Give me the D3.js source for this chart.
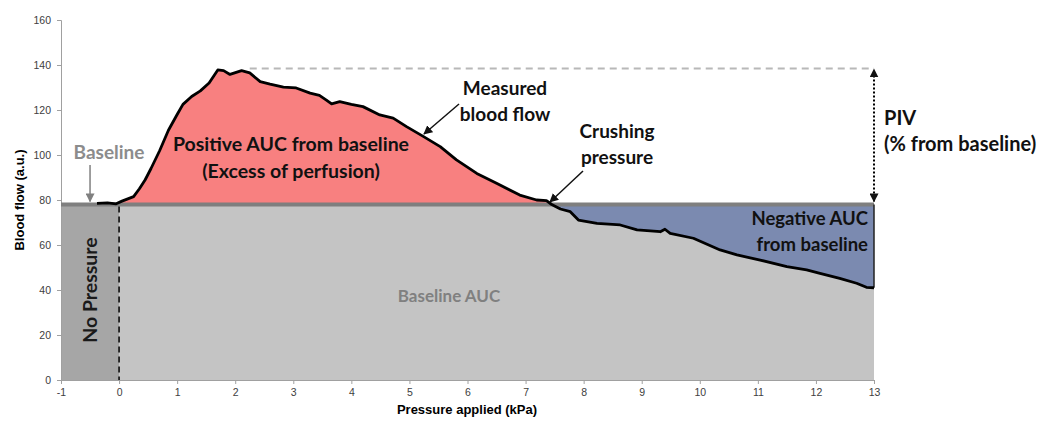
<!DOCTYPE html>
<html><head><meta charset="utf-8">
<script src="https://cdn.jsdelivr.net/npm/d3@7"></script>
<style>
body{margin:0;background:#fff;}
svg{display:block;}
.lbl{font-family:Lato,"Open Sans",sans-serif;font-weight:700;}
</style></head>
<body><svg id="c" width="1040" height="421"></svg>
<script>
const pressure = [-0.38,-0.2,-0.05,0.05,0.15,0.25,0.35,0.45,0.55,0.7,0.85,1.0,1.1,1.25,1.4,1.55,1.7,1.8,1.91,2.11,2.25,2.43,2.6,2.83,3.05,3.29,3.45,3.57,3.66,3.8,4.0,4.2,4.49,4.72,4.95,5.23,5.53,5.81,6.16,6.5,6.9,7.19,7.36,7.45,7.6,7.77,7.91,8.23,8.63,8.92,9.32,9.4,9.49,9.89,10.35,10.64,11.04,11.5,11.84,12.07,12.41,12.7,12.87,13.0];
const flow = [78.5,78.7,78.3,79.5,80.5,81.5,85,89,94,102,111,118,122.5,126,128.5,132,137.8,137.5,135.8,137.5,136.5,132.6,131.5,130.2,129.8,127.5,126.5,124.4,122.7,123.7,122.5,121.5,117.8,116.4,112.6,108.4,103.7,97.8,91.8,87.4,82.2,80,79.7,78,76,74.8,71.1,69.6,68.9,66.7,65.9,67,65.2,63,57.8,55.6,53.3,50.4,48.9,47.4,45.2,43,41.2,41];
const baseline = 78;
const peak = 138.5;
const xTicks = [-1,0,1,2,3,4,5,6,7,8,9,10,11,12,13];
const yTicks = [0,20,40,60,80,100,120,140,160];

const data = pressure.map((p,i)=>({x:p,y:flow[i]}));
const svg = d3.select("#c");
const x = d3.scaleLinear().domain([-1,13]).range([61,874]);
const y = d3.scaleLinear().domain([0,160]).range([380,20]);

const defs = svg.append("defs");
function marker(id,color,size){
  defs.append("marker").attr("id",id).attr("viewBox","0 0 10 10").attr("refX",9).attr("refY",5)
    .attr("markerWidth",size).attr("markerHeight",size).attr("orient","auto-start-reverse")
    .attr("markerUnits","userSpaceOnUse")
    .append("path").attr("d","M0,0 L10,5 L0,10 z").attr("fill",color);
}
marker("ag","#808080",9);
marker("ab","#111",9);

// No-pressure region
svg.append("path").datum([{x:-1},{x:0}])
  .attr("d",d3.area().x(d=>x(d.x)).y0(y(0)).y1(y(baseline))).attr("fill","#a6a6a6");
// baseline AUC (light gray)
const pos = data.filter(d=>d.x>=0);
svg.append("path").datum([{x:0,y:baseline}].concat(pos))
  .attr("d",d3.area().x(d=>x(d.x)).y0(y(0)).y1(d=>y(Math.min(d.y,baseline)))).attr("fill","#c4c4c4");
// positive AUC
svg.append("path").datum(data.filter(d=>d.x<=7.45))
  .attr("d",d3.area().x(d=>x(d.x)).y0(y(baseline)).y1(d=>y(Math.max(d.y,baseline)))).attr("fill","#f88080");
// negative AUC
svg.append("path").datum(data.filter(d=>d.x>=7.45))
  .attr("d",d3.area().x(d=>x(d.x)).y0(y(baseline)).y1(d=>y(Math.min(d.y,baseline)))).attr("fill","#7b8ab0");

// axes
const fmt = v => String(v);
const yAxis = svg.append("g").attr("transform",`translate(${x(-1)},0)`)
  .call(d3.axisLeft(y).tickValues(yTicks).tickFormat(fmt).tickSize(4).tickPadding(6));
const xAxis = svg.append("g").attr("transform",`translate(0,${y(0)})`)
  .call(d3.axisBottom(x).tickValues(xTicks).tickFormat(fmt).tickSize(4).tickPadding(5));
[yAxis,xAxis].forEach(a=>{
  a.selectAll("path,line").attr("stroke","#a0a0a0");
  a.selectAll("text").attr("fill","#404040").style("font-family","'Liberation Sans',Arial,sans-serif").style("font-size","10.5px");
});

// baseline line
svg.append("line").attr("x1",x(-1)).attr("x2",x(13)).attr("y1",y(baseline)).attr("y2",y(baseline))
  .attr("stroke","#7f7f7f").attr("stroke-width",4);
// dashed zero line
svg.append("line").attr("x1",x(0)).attr("x2",x(0)).attr("y1",y(baseline)+2).attr("y2",y(0))
  .attr("stroke","#000").attr("stroke-width",1.5).attr("stroke-dasharray","6,4");
// right edge of negative area
svg.append("line").attr("x1",x(13)).attr("x2",x(13)).attr("y1",y(baseline)).attr("y2",y(flow[flow.length-1]))
  .attr("stroke","#222").attr("stroke-width",1.5);
// curve
svg.append("path").datum(data)
  .attr("d",d3.line().x(d=>x(d.x)).y(d=>y(d.y)).curve(d3.curveLinear))
  .attr("fill","none").attr("stroke","#000").attr("stroke-width",2.8).attr("stroke-linejoin","round");
// peak dashed line
svg.append("line").attr("x1",x(2.25)).attr("x2",x(13)).attr("y1",y(peak)).attr("y2",y(peak))
  .attr("stroke","#b8b8b8").attr("stroke-width",2).attr("stroke-dasharray","7,5");
// PIV arrow
svg.append("line").attr("x1",x(13)).attr("x2",x(13)).attr("y1",y(baseline)-3).attr("y2",y(peak)+1)
  .attr("stroke","#000").attr("stroke-width",2).attr("stroke-dasharray","2,2")
  .attr("marker-start","url(#ab)").attr("marker-end","url(#ab)");
// arrows
svg.append("line").attr("x1",x(-0.5)).attr("x2",x(-0.5)).attr("y1",165).attr("y2",y(baseline)-3)
  .attr("stroke","#808080").attr("stroke-width",1.5).attr("marker-end","url(#ag)");
svg.append("line").attr("x1",459).attr("y1",104).attr("x2",424).attr("y2",134)
  .attr("stroke","#111").attr("stroke-width",1.5).attr("marker-end","url(#ab)");
svg.append("line").attr("x1",583).attr("y1",171).attr("x2",550).attr("y2",202)
  .attr("stroke","#111").attr("stroke-width",1.5).attr("marker-end","url(#ab)");

// texts
function txt(t,px,py,opts){
  const e = svg.append("text").attr("class","lbl").attr("x",px).attr("y",py).text(t)
    .attr("fill",opts.fill||"#111").style("font-size",(opts.size||17)+"px")
    .attr("text-anchor",opts.anchor||"middle");
  if(opts.rot) e.attr("transform",`rotate(${opts.rot},${px},${py})`);
  return e;
}
txt("Baseline",109,159,{fill:"#8c8c8c",size:19});
txt("Positive AUC from baseline",291,151,{size:19.5});
txt("(Excess of perfusion)",291,178,{size:19.5});
txt("Measured",505,95,{size:19});
txt("blood flow",505,121,{size:19});
txt("Crushing",617,138,{size:19});
txt("pressure",617,164,{size:19});
txt("Negative AUC",868,225,{size:18.5,anchor:"end"});
txt("from baseline",868,251,{size:18.5,anchor:"end"});
txt("PIV",884,125,{size:20,anchor:"start"});
txt("(% from baseline)",884,151,{size:20,anchor:"start"});
txt("No Pressure",97,290,{size:19.5,rot:-90,fill:"#1a1a1a"});
txt("Baseline AUC",449,302,{size:17,fill:"#808080"});

svg.append("text").attr("x",467).attr("y",414).attr("text-anchor","middle")
  .style("font-family","'Liberation Sans',Arial,sans-serif").style("font-weight","700").style("font-size","13px")
  .text("Pressure applied (kPa)");
svg.append("text").attr("transform","translate(24,200) rotate(-90)").attr("text-anchor","middle")
  .style("font-family","'Liberation Sans',Arial,sans-serif").style("font-weight","700").style("font-size","13px")
  .text("Blood flow (a.u.)");
</script></body></html>
